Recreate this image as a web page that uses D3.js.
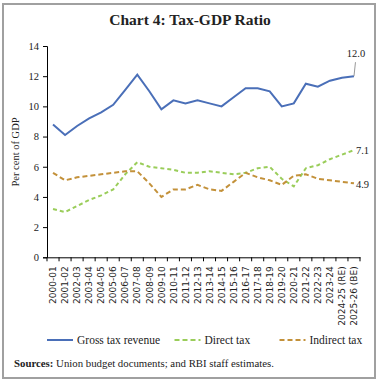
<!DOCTYPE html>
<html><head><meta charset="utf-8">
<script src="https://cdn.jsdelivr.net/npm/d3@7"></script>
<style>body{margin:0;background:#fff}svg{display:block}</style>
</head><body>
<script>
const categories = ["2000-01","2001-02","2002-03","2003-04","2004-05","2005-06","2006-07","2007-08","2008-09","2009-10","2010-11","2011-12","2012-13","2013-14","2014-15","2015-16","2016-17","2017-18","2018-19","2019-20","2020-21","2021-22","2022-23","2023-24","2024-25 (RE)","2025-26 (BE)"];
const grossTax = [8.8,8.1,8.7,9.2,9.6,10.1,11.1,12.1,11.0,9.8,10.4,10.2,10.4,10.2,10.0,10.6,11.2,11.2,11.0,10.0,10.2,11.5,11.3,11.7,11.9,12.0];
const directTax = [3.2,3.0,3.4,3.8,4.1,4.5,5.5,6.3,6.0,5.9,5.8,5.6,5.6,5.7,5.6,5.5,5.6,5.9,6.0,5.2,4.7,5.9,6.1,6.5,6.8,7.1];
const indirectTax = [5.6,5.1,5.3,5.4,5.5,5.6,5.7,5.7,4.9,4.0,4.5,4.5,4.8,4.5,4.4,5.0,5.6,5.3,5.1,4.8,5.4,5.5,5.2,5.1,5.0,4.9];
const yTicks = [0,2,4,6,8,10,12,14];

const W = 379, H = 382;
const svg = d3.select("body").append("svg").attr("width", W).attr("height", H);
svg.append("rect").attr("x",3).attr("y",4).attr("width",372).attr("height",374)
  .attr("fill","#fff").attr("stroke","#a0a0a0").attr("stroke-width",2);

svg.append("text").attr("x",190).attr("y",25).attr("text-anchor","middle")
  .attr("font-family","Liberation Serif").attr("font-weight","bold").attr("font-size",15.5)
  .attr("fill","#222").text("Chart 4: Tax-GDP Ratio");

const x = d3.scaleBand().domain(categories).range([47,360]).padding(0);
const y = d3.scaleLinear().domain([0,14]).range([257.3,46]);

const gy = svg.append("g").attr("transform","translate(47,0)")
  .call(d3.axisLeft(y).tickValues(yTicks).tickSize(4).tickPadding(4).tickFormat(d3.format("d")));
gy.selectAll("text").attr("font-family","Liberation Serif").attr("font-size",10.5).attr("fill","#222");
gy.selectAll("line,path").attr("stroke","#000");

const gx = svg.append("g").attr("transform","translate(0,257.3)")
  .call(d3.axisBottom(x).tickSize(0).tickSizeOuter(0));
gx.select("path").attr("stroke","#000");
gx.selectAll("text").attr("font-family","DejaVu Sans").attr("font-size",9).attr("fill","#222")
  .attr("text-anchor","end").attr("dx",-9).attr("dy",3.2).attr("x",0).attr("y",0)
  .attr("transform","rotate(-90)");
const bounds = categories.map(c => x(c)).concat([x.range()[1]]);
gx.selectAll(".bt").data(bounds).enter().append("line").attr("class","bt")
  .attr("x1",d=>d).attr("x2",d=>d).attr("y1",0).attr("y2",4).attr("stroke","#000");

svg.append("text").attr("transform","translate(19,152) rotate(-90)").attr("text-anchor","middle")
  .attr("font-family","Liberation Serif").attr("font-size",10.5).attr("fill","#222").text("Per cent of GDP");

const cx = d => x(d) + x.bandwidth()/2;
const series = [
  {vals: grossTax, color:"#4a6fb8", dash:null},
  {vals: directTax, color:"#9acd5a", dash:"4,3"},
  {vals: indirectTax, color:"#c3913a", dash:"5,3"}
];
const line = d3.line().x((d,i)=>cx(categories[i])).y(d=>y(d));
series.forEach(s=>{
  svg.append("path").datum(s.vals).attr("d",line).attr("fill","none")
    .attr("stroke",s.color).attr("stroke-width",2).attr("stroke-dasharray",s.dash);
});

const last = categories.length-1;
const lx = cx(categories[last]);
svg.append("line").attr("x1",lx).attr("y1",y(grossTax[last])).attr("x2",lx+1.5).attr("y2",y(grossTax[last])-14)
  .attr("stroke","#999").attr("stroke-width",1);
svg.append("text").attr("x",lx+2).attr("y",y(grossTax[last])-19).attr("text-anchor","middle")
  .attr("font-family","Liberation Serif").attr("font-size",10.5).attr("fill","#222").text(d3.format(".1f")(grossTax[last]));
svg.append("text").attr("x",lx+2).attr("y",y(directTax[last])+3.5)
  .attr("font-family","Liberation Serif").attr("font-size",10.5).attr("fill","#222").text(d3.format(".1f")(directTax[last]));
svg.append("text").attr("x",lx+2).attr("y",y(indirectTax[last])+4.5)
  .attr("font-family","Liberation Serif").attr("font-size",10.5).attr("fill","#222").text(d3.format(".1f")(indirectTax[last]));

const legend = [
  {label:"Gross tax revenue", x:47, color:"#4a6fb8", dash:null},
  {label:"Direct tax", x:174.5, color:"#9acd5a", dash:"5,3"},
  {label:"Indirect tax", x:279.5, color:"#c3913a", dash:"5,3"}
];
legend.forEach(l=>{
  svg.append("line").attr("x1",l.x).attr("x2",l.x+26).attr("y1",340).attr("y2",340)
    .attr("stroke",l.color).attr("stroke-width",2).attr("stroke-dasharray",l.dash);
  svg.append("text").attr("x",l.x+30).attr("y",343.5).attr("font-family","Liberation Serif")
    .attr("font-size",11.5).attr("fill","#222").text(l.label);
});

const src = svg.append("text").attr("x",14).attr("y",367).attr("font-family","Liberation Serif")
  .attr("font-size",10.8).attr("fill","#222");
src.append("tspan").attr("font-weight","bold").text("Sources: ");
src.append("tspan").text("Union budget documents; and RBI staff estimates.");
</script>
</body></html>
